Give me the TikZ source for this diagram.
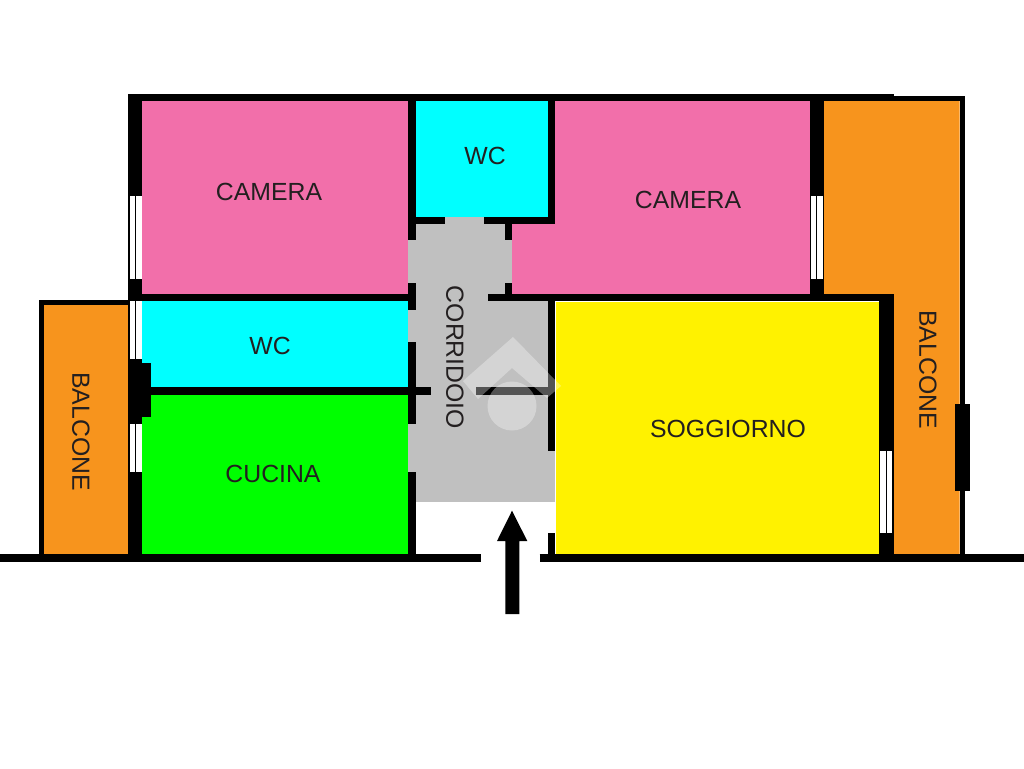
\documentclass[tikz,border=0pt]{standalone}
\usepackage{fontspec}
\setmainfont{Liberation Sans}
\definecolor{roompink}{HTML}{F26FAA}
\definecolor{roomcyan}{HTML}{00FFFF}
\definecolor{roomgreen}{HTML}{00FF00}
\definecolor{roomyellow}{HTML}{FFF200}
\definecolor{roomorange}{HTML}{F7941D}
\definecolor{roomgray}{HTML}{C0C0C0}
\definecolor{labelink}{HTML}{231F20}
\tikzset{
  wall/.style={black,line width=7.4pt},
  roomlabel/.style={text=labelink,inner sep=0pt,font=\fontsize{24.8}{28}\selectfont},
  glass/.style={fill=white}
}
\begin{document}
\begin{tikzpicture}[x=1pt,y=-1pt]
      \useasboundingbox (0,0) rectangle (1024,768);
      % rooms
      \fill[roomgray] (408,217)--(555,217)--(555,502.3)--(408,502.3)--cycle;
      \fill[roompink] (142,100)--(408,100)--(408,294)--(142,294)--cycle;
      \fill[roompink] (555,100)--(810,100)--(810,294)--(512,294)--(512,224)--(555,224)--cycle;
      \fill[roomcyan] (416,100)--(548,100)--(548,217)--(416,217)--cycle;
      \fill[roomcyan] (142,301)--(408,301)--(408,388)--(142,388)--cycle;
      \fill[roomgreen] (142,395)--(408,395)--(408,554.5)--(142,554.5)--cycle;
      \fill[roomyellow] (555.5,301.5)--(879,301.5)--(879,554.5)--(555.5,554.5)--cycle;
      % balconies
      \fill[black] (38.5,299.5) rectangle (130,561);
      \fill[roomorange] (43.5,304.5) rectangle (128,554.5);
      \fill[roomorange] (823.5,100.5)--(959.5,100.5)--(959.5,554.5)--(893,554.5)--(893,294)--(823.5,294)--cycle;
      \fill[black] (893,95.5) rectangle (964.5,100.5);
      \fill[black] (959.5,95.5) rectangle (964.5,561);
      % outer walls
      \fill[black] (128,93.5) rectangle (893.5,100.5);
      \fill[black] (128,93.5) rectangle (142,561);
      \fill[black] (810,93.5) rectangle (823.5,301);
      \fill[black] (879,294) rectangle (893.5,561);
      \fill[black] (954.5,404) rectangle (969.5,490.5);
      \fill[black] (128,363) rectangle (150.5,417);
      % inner walls
      \draw[wall] (128,297.5)--(416,297.5);
      \draw[wall] (488,297.5)--(893,297.5);
      \draw[wall] (142,391)--(431,391);
      \draw[wall] (476,391)--(548,391);
      \draw[wall] (412,100)--(412,239.5);
      \draw[wall] (412,283)--(412,310);
      \draw[wall] (412,342)--(412,423.5);
      \draw[wall] (412,472)--(412,561);
      \draw[wall] (408,220.5)--(444.5,220.5);
      \draw[wall] (484,220.5)--(555,220.5);
      \draw[wall] (551.5,100)--(551.5,224);
      \draw[wall] (508.5,224)--(508.5,239.5);
      \draw[wall] (508.5,283)--(508.5,294);
      \draw[wall] (551.5,294)--(551.5,451);
      \draw[wall] (551.5,533)--(551.5,555);
      % street
      \draw[wall] (0,558)--(481,558);
      \draw[wall] (539.5,558)--(1024,558);
      % windows
      \foreach \wx/\wa/\wb in {129.5/195.5/278.5,129.5/301/359,129.5/424/472,810.5/195.5/278.5,880/451/533}{
        \fill[glass] (\wx,\wa) rectangle ++(5.5,\wb-\wa);
        \fill[glass] (\wx+6.8,\wa) rectangle ++(5.5,\wb-\wa);
      }
      % labels
      \node[roomlabel] (cameraleft) at (269,192) {CAMERA};
      \node[roomlabel] (cameraright) at (688,200) {CAMERA};
      \node[roomlabel] (wctop) at (485,156) {WC};
      \node[roomlabel] (wcleft) at (270,346) {WC};
      \node[roomlabel] (cucina) at (273,474) {CUCINA};
      \node[roomlabel] (soggiorno) at (728,429) {SOGGIORNO};
      \node[roomlabel,rotate=-90] (corridoio) at (455,357.5) {CORRIDOIO};
      \node[roomlabel,rotate=-90] (balconeleft) at (81,431.5) {BALCONE};
      \node[roomlabel,rotate=-90] (balconeright) at (928,369.5) {BALCONE};
      % entrance
      \fill[black] (505.3,614)--(519.3,614)--(519.3,541)--(527.3,541)--(512,510.7)--(497,541)--(505.3,541)--cycle;
      % watermark
      \fill[white,opacity=.33] (513,337)--(561,386)--(547,398)--(512,368)--(478,399)--(463,381)--cycle;
      \fill[white,opacity=.33] (512,406) circle (24.5);
\end{tikzpicture}
\end{document}
